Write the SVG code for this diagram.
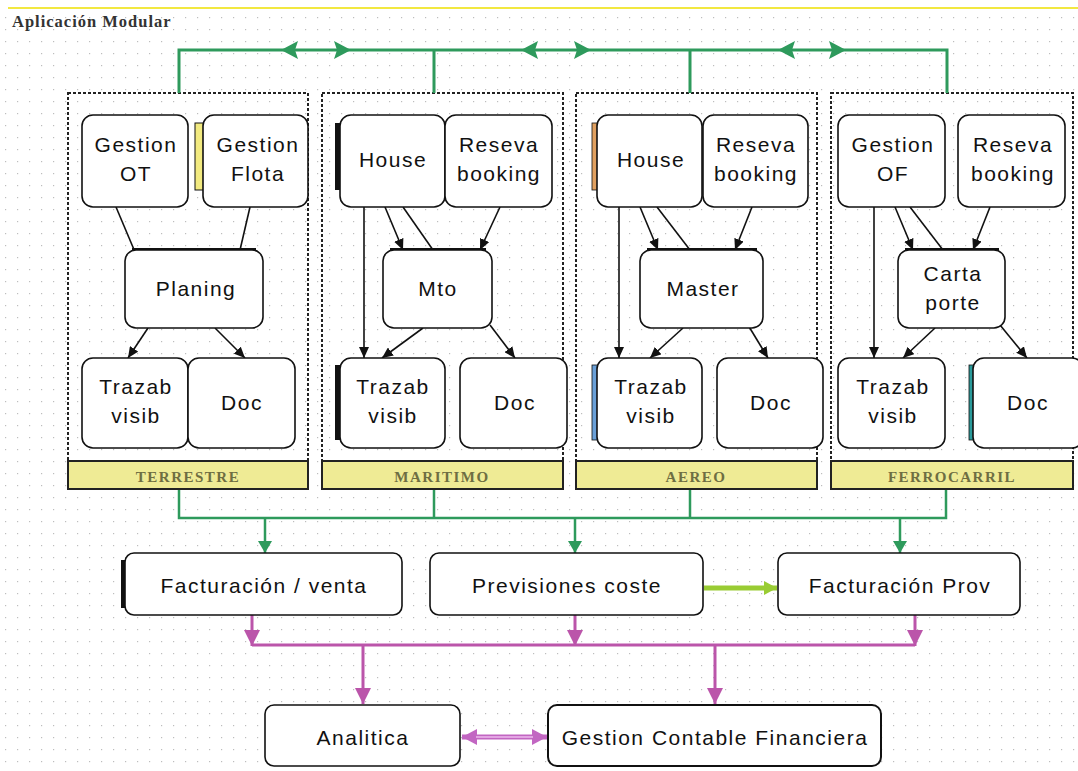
<svg xmlns="http://www.w3.org/2000/svg" width="1078" height="771" viewBox="0 0 1078 771">
<style>
.nd{fill:#fff;stroke:#111;stroke-width:1.6}
.t{font-family:"Liberation Sans",Arial,sans-serif;font-size:21px;fill:#111;text-anchor:middle;letter-spacing:1.5px}
.pnl{fill:none;stroke:#222;stroke-width:2;stroke-dasharray:3 2}
.bar{fill:#efeb95;stroke:#222;stroke-width:2}
.bt{font-family:"Liberation Serif","Times New Roman",serif;font-weight:bold;font-size:15px;fill:#6e6e42;text-anchor:middle;letter-spacing:1.5px}
.sh{fill:#111}
.c{fill:none;stroke:#111;stroke-width:1.6}
.ca{fill:none;stroke:#111;stroke-width:1.6;marker-end:url(#ab)}
.g{fill:none;stroke:#2e9a5c;stroke-width:3}
.ga{fill:none;stroke:#2e9a5c;stroke-width:2.5;marker-end:url(#ag)}
.m{fill:none;stroke:#bb55aa;stroke-width:3}
.ma{fill:none;stroke:#bb55aa;stroke-width:3;marker-end:url(#am)}
</style>
<defs>
<pattern id="dots" width="12" height="12" patternUnits="userSpaceOnUse">
<rect x="5" y="5" width="1.2" height="1.2" fill="#bdbdbd"/>
</pattern>
<marker id="ab" markerUnits="userSpaceOnUse" markerWidth="12" markerHeight="10" refX="11" refY="5" orient="auto"><path d="M0,0 L11,5 L0,10 z" fill="#111"/></marker>
<marker id="ag" markerUnits="userSpaceOnUse" markerWidth="13" markerHeight="14" refX="12" refY="7" orient="auto"><path d="M0,0 L12,7 L0,14 z" fill="#2e9a5c"/></marker>
<marker id="am" markerUnits="userSpaceOnUse" markerWidth="17" markerHeight="17" refX="16" refY="8" orient="auto"><path d="M0,0 L16,8 L0,16 z" fill="#bb55aa"/></marker>
<marker id="al" markerUnits="userSpaceOnUse" markerWidth="14" markerHeight="14" refX="13" refY="7" orient="auto"><path d="M0,0 L13,7 L0,14 z" fill="#99cc33"/></marker>
<marker id="ap" markerUnits="userSpaceOnUse" markerWidth="16" markerHeight="16" refX="15" refY="8" orient="auto-start-reverse"><path d="M0,0 L15,8 L0,16 z" fill="#c266c2"/></marker>
</defs>
<rect width="1078" height="771" fill="#fff"/>
<rect y="10" width="1078" height="761" fill="url(#dots)"/>
<line x1="8" y1="8" x2="1078" y2="8" stroke="#eee000" stroke-width="1.5"/>
<text x="12" y="27" font-family="Liberation Serif,'Times New Roman',serif" font-weight="bold" font-size="16.5" letter-spacing="1" fill="#333">Aplicación Modular</text>

<g id="panels">
<rect class="pnl" x="68" y="93" width="240" height="396"/>
<rect class="pnl" x="322" y="93" width="241" height="396"/>
<rect class="pnl" x="576" y="93" width="241" height="396"/>
<rect class="pnl" x="831" y="93" width="242" height="396"/>
</g>

<g id="connectors">
<path class="g" d="M179,93 V50 H947 V93 M434,50 V93 M690,50 V93"/>
<polygon points="281,50 298,41 295,50 298,59" fill="#2e9a5c"/>
<polygon points="351,50 334,41 337,50 334,59" fill="#2e9a5c"/>
<polygon points="521,50 538,41 535,50 538,59" fill="#2e9a5c"/>
<polygon points="591,50 574,41 577,50 574,59" fill="#2e9a5c"/>
<polygon points="778,50 795,41 792,50 795,59" fill="#2e9a5c"/>
<polygon points="846,50 829,41 832,50 829,59" fill="#2e9a5c"/>

<path class="c" d="M116,207 L135,252"/>
<path class="c" d="M250,207 L240,250"/>
<path class="ca" d="M148,328 L128,358"/>
<path class="ca" d="M215,328 L245,358"/>

<path class="ca" d="M364,207 L364,358"/>
<path class="ca" d="M385,207 L403,250"/>
<path class="c" d="M403,207 L433,250"/>
<path class="ca" d="M500,207 L480,250"/>
<path class="ca" d="M423,328 L382,358"/>
<path class="ca" d="M490,325 L515,358"/>

<path class="ca" d="M619,207 L619,358"/>
<path class="ca" d="M640,207 L658,250"/>
<path class="c" d="M657,207 L690,250"/>
<path class="ca" d="M752,207 L735,250"/>
<path class="ca" d="M683,328 L650,358"/>
<path class="ca" d="M748,325 L768,358"/>

<path class="ca" d="M874,207 L874,358"/>
<path class="ca" d="M895,207 L913,250"/>
<path class="c" d="M910,207 L943,250"/>
<path class="ca" d="M990,207 L973,250"/>
<path class="ca" d="M935,328 L903,358"/>
<path class="ca" d="M1000,325 L1027,358"/>

<path class="g" style="stroke-width:2.5" d="M179,489 V518 H946 V489 M434,489 V518 M690,489 V518"/>
<path class="ga" d="M265,518 V553"/>
<path class="ga" d="M575,518 V553"/>
<path class="ga" d="M900,518 V553"/>

<path fill="none" stroke="#99cc33" stroke-width="5" marker-end="url(#al)" d="M704,588 H777"/>

<path class="ma" d="M252,615 V646"/>
<path class="ma" d="M575,615 V646"/>
<path class="ma" d="M915,615 V646"/>
<path class="m" d="M252,645 H915"/>
<path class="ma" d="M363,645 V704"/>
<path class="ma" d="M715,645 V704"/>

<path fill="none" stroke="#c266c2" stroke-width="5" marker-start="url(#ap)" marker-end="url(#ap)" d="M462,737 H547"/>
<path fill="none" stroke="#eebbee" stroke-width="1.5" d="M476,737 H533"/>
</g>

<g id="terrestre">
<g id="gestion-ot"><rect class="nd" x="82" y="115" width="106" height="92" rx="11"/><text class="t" x="136" y="152">Gestion</text><text class="t" x="136" y="181">OT</text></g>
<g id="gestion-flota"><rect x="195" y="123" width="10" height="67" fill="#f2ea80" stroke="#111"/><rect class="nd" x="203" y="115" width="105" height="92" rx="11"/><text class="t" x="258" y="152">Gestion</text><text class="t" x="258" y="181">Flota</text></g>
<g id="planing"><rect class="sh" x="132" y="248" width="124" height="4"/><rect class="nd" x="125" y="250" width="138" height="78" rx="11"/><text class="t" x="196" y="296">Planing</text></g>
<g id="trazab-1"><rect class="nd" x="82" y="358" width="106" height="90" rx="11"/><text class="t" x="136" y="394">Trazab</text><text class="t" x="136" y="423">visib</text></g>
<g id="doc-1"><rect class="nd" x="188" y="358" width="107" height="90" rx="11"/><text class="t" x="242" y="410">Doc</text></g>
<g id="bar-1"><rect class="bar" x="68" y="461" width="240" height="28"/><text class="bt" x="188" y="482">TERRESTRE</text></g>
</g>

<g id="maritimo">
<g id="house-2"><rect x="335" y="123" width="8" height="67" fill="#111"/><rect class="nd" x="340" y="115" width="105" height="92" rx="11"/><text class="t" x="393" y="167">House</text></g>
<g id="reseva-2"><rect class="nd" x="445" y="115" width="107" height="92" rx="11"/><text class="t" x="499" y="152">Reseva</text><text class="t" x="499" y="181">booking</text></g>
<g id="mto"><rect class="sh" x="390" y="248" width="96" height="4"/><rect class="nd" x="383" y="250" width="109" height="78" rx="11"/><text class="t" x="438" y="296">Mto</text></g>
<g id="trazab-2"><rect x="335" y="365" width="8" height="75" fill="#111"/><rect class="nd" x="340" y="358" width="105" height="90" rx="11"/><text class="t" x="393" y="394">Trazab</text><text class="t" x="393" y="423">visib</text></g>
<g id="doc-2"><rect class="nd" x="460" y="358" width="107" height="90" rx="11"/><text class="t" x="515" y="410">Doc</text></g>
<g id="bar-2"><rect class="bar" x="322" y="461" width="241" height="28"/><text class="bt" x="442" y="482">MARITIMO</text></g>
</g>

<g id="aereo">
<g id="house-3"><rect x="592" y="123" width="8" height="67" fill="#e0a060" stroke="#111" stroke-width="0.8"/><rect class="nd" x="597" y="115" width="105" height="92" rx="11"/><text class="t" x="651" y="167">House</text></g>
<g id="reseva-3"><rect class="nd" x="703" y="115" width="105" height="92" rx="11"/><text class="t" x="756" y="152">Reseva</text><text class="t" x="756" y="181">booking</text></g>
<g id="master"><rect class="sh" x="647" y="248" width="110" height="4"/><rect class="nd" x="640" y="250" width="123" height="78" rx="11"/><text class="t" x="703" y="296">Master</text></g>
<g id="trazab-3"><rect x="592" y="365" width="8" height="75" fill="#6aa0d8" stroke="#111" stroke-width="0.8"/><rect class="nd" x="597" y="358" width="105" height="90" rx="11"/><text class="t" x="651" y="394">Trazab</text><text class="t" x="651" y="423">visib</text></g>
<g id="doc-3"><rect class="nd" x="717" y="358" width="106" height="90" rx="11"/><text class="t" x="771" y="410">Doc</text></g>
<g id="bar-3"><rect class="bar" x="576" y="461" width="241" height="28"/><text class="bt" x="696" y="482">AEREO</text></g>
</g>

<g id="ferrocarril">
<g id="gestion-of"><rect class="nd" x="838" y="115" width="107" height="92" rx="11"/><text class="t" x="893" y="152">Gestion</text><text class="t" x="893" y="181">OF</text></g>
<g id="reseva-4"><rect class="nd" x="958" y="115" width="107" height="92" rx="11"/><text class="t" x="1013" y="152">Reseva</text><text class="t" x="1013" y="181">booking</text></g>
<g id="carta-porte"><rect class="sh" x="905" y="248" width="94" height="4"/><rect class="nd" x="898" y="250" width="107" height="78" rx="11"/><text class="t" x="953" y="281">Carta</text><text class="t" x="953" y="310">porte</text></g>
<g id="trazab-4"><rect class="nd" x="838" y="358" width="107" height="90" rx="11"/><text class="t" x="893" y="394">Trazab</text><text class="t" x="893" y="423">visib</text></g>
<g id="doc-4"><rect x="969" y="365" width="8" height="75" fill="#2a9a9a" stroke="#111" stroke-width="0.8"/><rect class="nd" x="973" y="358" width="110" height="90" rx="11"/><text class="t" x="1028" y="410">Doc</text></g>
<g id="bar-4"><rect class="bar" x="831" y="461" width="242" height="28"/><text class="bt" x="952" y="482">FERROCARRIL</text></g>
</g>

<g id="facturacion-venta"><rect x="121" y="560" width="8" height="48" fill="#111"/><rect class="nd" x="125" y="553" width="277" height="62" rx="9"/><text class="t" x="264" y="593">Facturación / venta</text></g>
<g id="previsiones-coste"><rect class="nd" x="430" y="553" width="273" height="62" rx="9"/><text class="t" x="567" y="593">Previsiones coste</text></g>
<g id="facturacion-prov"><rect class="nd" x="778" y="553" width="242" height="62" rx="9"/><text class="t" x="900" y="593">Facturación Prov</text></g>
<g id="analitica"><rect class="nd" x="265" y="705" width="195" height="61" rx="9"/><text class="t" x="363" y="745">Analitica</text></g>
<g id="gestion-contable"><rect class="nd" x="548" y="705" width="333" height="61" rx="9" style="stroke-width:2"/><text class="t" x="715" y="745">Gestion Contable Financiera</text></g>
</svg>
